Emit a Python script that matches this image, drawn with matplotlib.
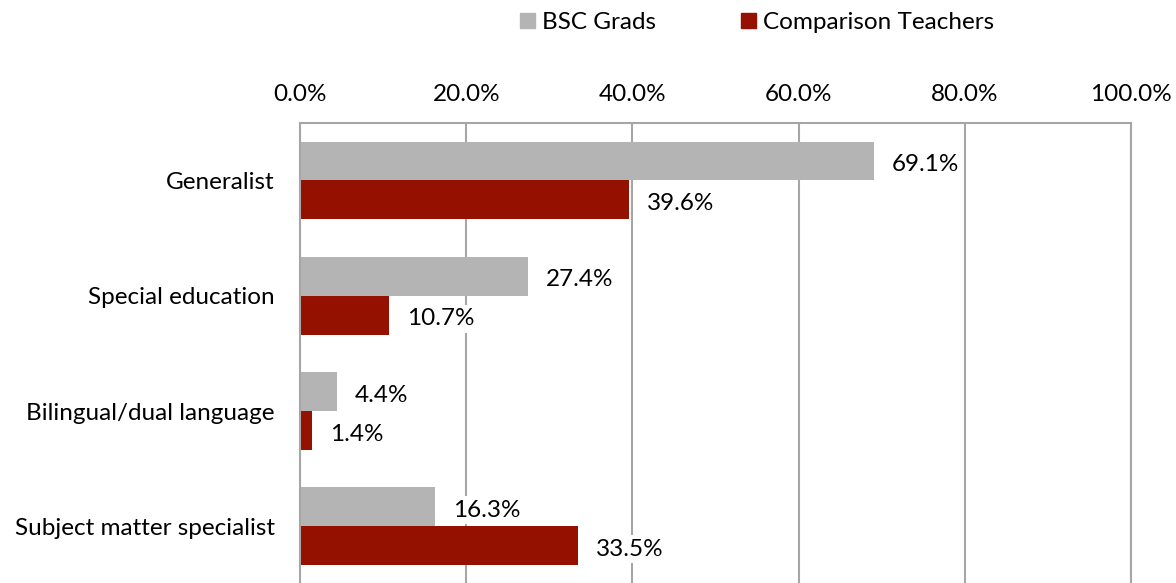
import numpy as np
import matplotlib.pyplot as plt
from matplotlib.patches import Patch

plt.rcParams['font.family'] = ['Lato', 'DejaVu Sans']

categories = ['Generalist', 'Special education', 'Bilingual/dual language', 'Subject matter specialist']
bsc_grads = [69.1, 27.4, 4.4, 16.3]
comparison = [39.6, 10.7, 1.4, 33.5]
ticks = [0, 20, 40, 60, 80, 100]

gray = '#B4B4B4'
red = '#941100'
grid_color = '#A6A6A6'
fs = 17.5

fig = plt.figure(figsize=(11.76, 5.83), dpi=100)
ax = fig.add_axes([0.2551, -0.0017, 0.7066, 0.791])

y = np.arange(len(categories))
h = 0.338
ax.barh(y - h / 2, bsc_grads, height=h, color=gray, zorder=2)
ax.barh(y + h / 2, comparison, height=h, color=red, zorder=2)

# value labels with white boxes, like the original
for yy, vals in [(y - h / 2, bsc_grads), (y + h / 2, comparison)]:
    for yi, v in zip(yy, vals):
        ax.annotate(f'{v:.1f}%', (v, yi), xytext=(13, -2.5), textcoords='offset points',
                    ha='left', va='center', fontsize=fs, color='black', zorder=3,
                    bbox=dict(boxstyle='square,pad=0.15', fc='white', ec='none'))

ax.set_xlim(0, 100)
ax.set_ylim(3.5, -0.5)
ax.set_xticks(ticks)
ax.set_xticklabels([f'{t:.1f}%' for t in ticks])
ax.set_yticks(y)
ax.set_yticklabels(categories)
ax.xaxis.tick_top()
ax.tick_params(axis='x', length=0, pad=13, labelsize=fs)
ax.tick_params(axis='y', length=0, pad=18, labelsize=fs)
ax.grid(axis='x', color=grid_color, linewidth=1.5, zorder=1)
ax.set_axisbelow(True)
for s in ax.spines.values():
    s.set_color(grid_color)
    s.set_linewidth(1.5)

handles = [Patch(color=gray, label='BSC Grads'), Patch(color=red, label='Comparison Teachers')]
fig.legend(handles=handles, loc='center', bbox_to_anchor=(0.644, 0.961), ncol=2,
           frameon=False, fontsize=fs, handlelength=0.6, handleheight=0.6,
           handletextpad=0.3, columnspacing=3.5)

fig.savefig('out.png', dpi=100)
